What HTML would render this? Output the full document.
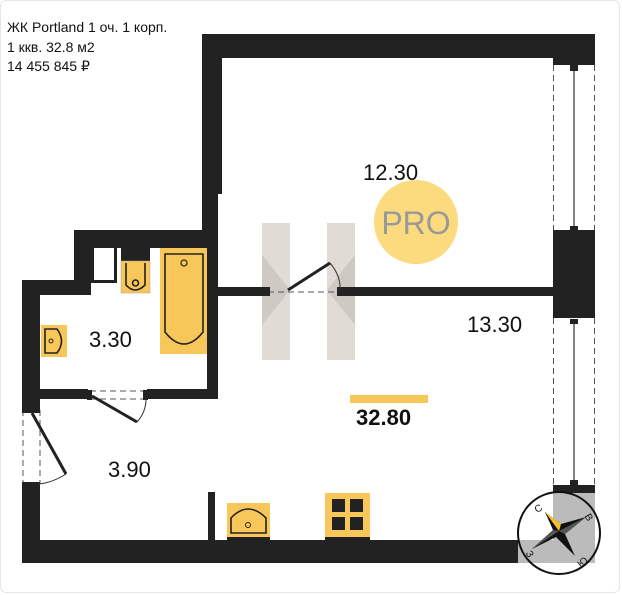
<!DOCTYPE html>
<html><head><meta charset="utf-8"><style>
html,body{margin:0;padding:0;background:#fff;}
svg{display:block;font-family:"Liberation Sans","DejaVu Sans",sans-serif;}
</style></head><body>
<svg width="622" height="595" viewBox="0 0 622 595" xmlns="http://www.w3.org/2000/svg">
<rect x="0.5" y="0.5" width="619" height="592" rx="6" fill="#fff" stroke="#e6e6e6"/>
<text x="7" y="32" font-size="14" fill="#111">ЖК Portland 1 оч. 1 корп.</text>
<text x="7" y="52" font-size="14" fill="#111">1 ккв. 32.8 м2</text>
<text x="7" y="71" font-size="14" fill="#111">14 455 845 ₽</text>

<!-- watermark -->
<g opacity="0.55">
<polygon points="262,223 290,223 290,360 262,360" fill="#c9bfb4"/>
<polygon points="327,223 355,223 355,360 327,360" fill="#c9bfb4"/>
<polygon points="262,255 290,290 262,325" fill="#a99e93"/>
<polygon points="355,255 327,290 355,325" fill="#a99e93"/>
</g>

<g fill="#222">
<rect x="202" y="34" width="393" height="24"/>
<rect x="202" y="34" width="20" height="160"/>
<rect x="202" y="190" width="16" height="58"/>
<rect x="74" y="230" width="144" height="18"/>
<rect x="74" y="230" width="17" height="65"/>
<rect x="22" y="280" width="69" height="15"/>
<rect x="22" y="280" width="18" height="128"/>
<rect x="22" y="486" width="18" height="77"/>
<rect x="22" y="540" width="573" height="23"/>
<rect x="553" y="230" width="42" height="88"/>
<rect x="553" y="485" width="42" height="78"/>
<rect x="553" y="58" width="42" height="7"/>
<rect x="218" y="287" width="50" height="9"/>
<rect x="340" y="287" width="213" height="9"/>
<rect x="207" y="248" width="11" height="150"/>
<rect x="40" y="389" width="48" height="10"/>
<rect x="147" y="389" width="71" height="10"/>
<rect x="208" y="492" width="7" height="48"/>
<rect x="91" y="248" width="3" height="35"/>
<rect x="114" y="248" width="3" height="35"/>
<rect x="91" y="280" width="26" height="3"/>
<rect x="121" y="248" width="29" height="13"/>
</g>

<g stroke="#555" stroke-dasharray="6,4" fill="none" stroke-width="1">
<line x1="553.5" y1="65" x2="553.5" y2="230"/><line x1="594.5" y1="65" x2="594.5" y2="230"/>
<line x1="553.5" y1="318" x2="553.5" y2="485"/><line x1="594.5" y1="318" x2="594.5" y2="485"/>
<line x1="23" y1="410" x2="23" y2="484"/><line x1="40" y1="410" x2="40" y2="484"/>
<line x1="90" y1="391" x2="146" y2="391"/><line x1="90" y1="399" x2="146" y2="399"/>
<line x1="268" y1="292" x2="340" y2="292"/>
</g>
<g stroke="#333" stroke-width="1.2"><line x1="574" y1="68" x2="574" y2="228"/><line x1="574" y1="320" x2="574" y2="483"/></g>
<g fill="#222"><rect x="570" y="65" width="8" height="6"/><rect x="570" y="226" width="8" height="5"/><rect x="570" y="319" width="8" height="5"/><rect x="570" y="480" width="8" height="6"/>
<rect x="22" y="408" width="18" height="5"/><rect x="22" y="482" width="18" height="5"/>
<rect x="87" y="390" width="5" height="10"/><rect x="143" y="390" width="5" height="10"/>
<rect x="265" y="287" width="5" height="9"/><rect x="337" y="287" width="5" height="9"/></g>
<g stroke="#222" stroke-width="3"><line x1="92" y1="396" x2="137" y2="422"/><line x1="32" y1="413" x2="66" y2="474"/><line x1="288" y1="290" x2="330" y2="263"/></g>
<g stroke="#333" fill="none" stroke-width="1"><path d="M137,422 Q146,412 146,399"/><path d="M66,474 Q52,483 38,484"/><path d="M330,263 Q341,276 340,290"/></g>

<g stroke="#222" stroke-width="1.6">
<rect x="121" y="261" width="29" height="32" fill="#f8c75a" stroke="#b99" stroke-width="0.5"/>
<path d="M126,263 L126,285 Q135,295 145,285 L145,263" fill="none"/>
<circle cx="135.5" cy="283" r="3" fill="none"/>
<rect x="160" y="248" width="47" height="106" fill="#f8c75a" stroke="none"/>
<path d="M165,254 L203,254 L203,332 Q184,356 165,332 Z" fill="none"/>
<circle cx="184" cy="263" r="3" fill="none" stroke-width="1.2"/>
<rect x="41" y="325" width="26" height="32" fill="#f8c75a" stroke="none"/>
<path d="M45,329 L57,329 Q66,341 57,353 L45,353 Z" fill="none"/>
<circle cx="51" cy="341" r="2" fill="none" stroke-width="1"/>
<rect x="227" y="503" width="43" height="37" fill="#f8c75a" stroke="none"/>
<path d="M231,533 L231,518 Q248,500 266,518 L266,533 Z" fill="none"/>
<circle cx="248" cy="525" r="2.5" fill="none" stroke-width="1"/>
<rect x="227" y="537" width="43" height="4" fill="#222" stroke="none"/>
<rect x="325" y="493" width="45" height="47" fill="#f8c75a" stroke="none"/>
<rect x="325" y="537" width="45" height="4" fill="#222" stroke="none"/>
</g>
<g fill="#222"><rect x="332" y="499" width="13" height="13"/><rect x="350" y="499" width="13" height="13"/><rect x="332" y="517" width="13" height="13"/><rect x="350" y="517" width="13" height="13"/></g>

<circle cx="416" cy="222" r="42" fill="#fbdb7e"/>
<text x="416" y="234" font-size="32" fill="#999" text-anchor="middle">PRO</text>

<g font-size="22" fill="#111">
<text x="363" y="180">12.30</text>
<text x="467" y="332">13.30</text>
<text x="89" y="347">3.30</text>
<text x="108" y="477">3.90</text>
</g>
<rect x="350" y="395" width="78" height="8" fill="#f8c75a"/>
<text x="356" y="425" font-size="22" font-weight="bold" fill="#111">32.80</text>

<!-- compass -->
<rect x="553" y="493" width="42" height="70" fill="#bbb"/>
<rect x="518" y="540" width="77" height="23" fill="#bbb"/>
<circle cx="559" cy="533" r="41" fill="none" stroke="#111" stroke-width="2"/>
<polygon points="545,512 561,524 586,517 565,534 575,556 556,537 532,549 553,530" fill="#111"/>
<polygon points="545,512 561,524 559,531" fill="#f8c030"/>
<polygon points="586,517 565,534 559,531" fill="#555"/>
<polygon points="532,549 553,530 559,531" fill="#555"/>
<g font-size="10" fill="#111"><text x="535" y="512" transform="rotate(-30 538 509)">С</text><text x="585" y="521" transform="rotate(60 589 518)">В</text><text x="578" y="566" transform="rotate(-40 582 563)">Ю</text><text x="526" y="558" transform="rotate(60 530 555)">З</text></g>
</svg>
</body></html>
